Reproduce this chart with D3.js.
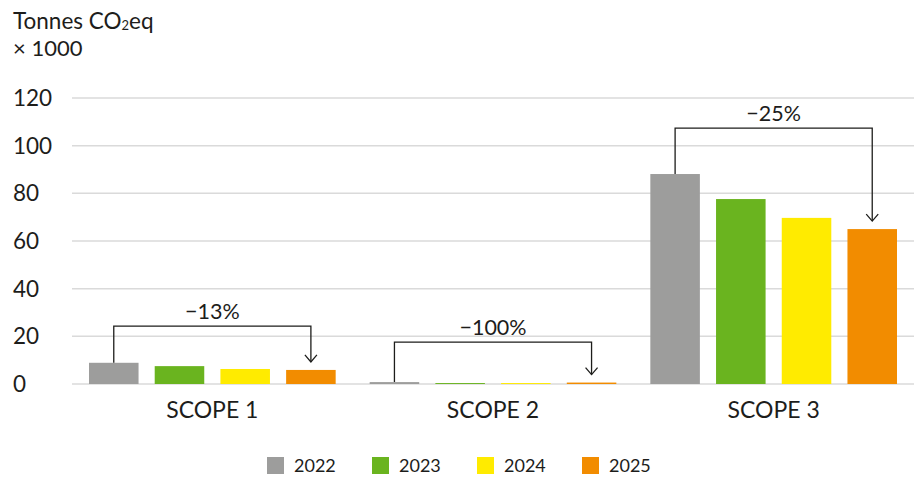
<!DOCTYPE html>
<html><head><meta charset="utf-8">
<script src="https://cdn.jsdelivr.net/npm/d3@7"></script>
<style>body{margin:0;background:#fff}svg{display:block;font-family:Lato,"Open Sans",sans-serif}</style>
</head><body><svg id="c" width="921" height="479"></svg>
<script>
const categories = ["SCOPE 1", "SCOPE 2", "SCOPE 3"];
const years = ["2022", "2023", "2024", "2025"];
const values2022 = [8.9, 0.8, 88.1];
const values2023 = [7.5, 0.4, 77.6];
const values2024 = [6.3, 0.4, 69.7];
const values2025 = [5.9, 0.6, 65.0];
const changeLabels = ["\u221213%", "\u2212100%", "\u221225%"];
const bracketLevels = [24.3, 17.6, 107.4];
const yTicks = [0, 20, 40, 60, 80, 100, 120];
const colors = ["#9d9d9c", "#6ab41f", "#ffeb00", "#f28c00"];

(function () {
const series = [values2022, values2023, values2024, values2025];
const svg = d3.select("#c");
const mLeft = 72, mRight = 914, mTop = 98, mBottom = 384;
const ink = "#1d1d1b";
const y = d3.scaleLinear().domain([0, 120]).range([mBottom, mTop]);
const x0 = d3.scaleBand().domain(categories).range([mLeft, mRight]).paddingInner(0).paddingOuter(0);
const x1 = d3.scaleBand().domain(years).range([17, x0.bandwidth() - 17]).paddingInner(0.246).paddingOuter(0);

svg.append("g").selectAll("line").data(yTicks).join("line")
  .attr("x1", mLeft).attr("x2", mRight)
  .attr("y1", d => y(d)).attr("y2", d => y(d))
  .attr("stroke", "#dadada").attr("stroke-width", 1.5);
svg.append("g").selectAll("text").data(yTicks).join("text")
  .attr("x", 13).attr("y", d => y(d)).attr("dy", "0.36em")
  .attr("font-size", 22.5).attr("fill", ink).text(d => d);

const t = svg.append("text").attr("x", 13).attr("y", 29).attr("font-size", 22.5).attr("fill", ink);
t.append("tspan").text("Tonnes CO");
t.append("tspan").attr("font-size", 13).attr("dy", 1).text("2");
t.append("tspan").attr("dy", -1).text("eq");
svg.append("text").attr("x", 13).attr("y", 56).attr("font-size", 22).attr("fill", ink).text("\u00d7 1000");

const groups = svg.append("g").selectAll("g").data(categories).join("g")
  .attr("transform", c => `translate(${x0(c)},0)`);
groups.selectAll("rect").data((c, i) => years.map((yr, j) => ({yr, v: series[j][i], j})))
  .join("rect")
  .attr("x", d => x1(d.yr)).attr("width", x1.bandwidth())
  .attr("y", d => y(d.v)).attr("height", d => y(0) - y(d.v))
  .attr("fill", d => colors[d.j]);

svg.append("g").selectAll("text").data(categories).join("text")
  .attr("x", c => x0(c) + x0.bandwidth() / 2).attr("y", 418)
  .attr("text-anchor", "middle").attr("font-size", 23).attr("fill", ink).text(c => c);

categories.forEach((c, i) => {
  const xa = x0(c) + x1("2022") + x1.bandwidth() / 2;
  const xb = x0(c) + x1("2025") + x1.bandwidth() / 2;
  const yb = y(bracketLevels[i]);
  const ya = y(values2022[i]);
  const ye = y(values2025[i]) - 8;
  svg.append("path")
    .attr("d", `M${xa},${ya}V${yb}H${xb}V${ye}`)
    .attr("fill", "none").attr("stroke", ink).attr("stroke-width", 1.3);
  svg.append("path")
    .attr("d", `M${xb - 6},${ye - 7}L${xb},${ye}L${xb + 6},${ye - 7}`)
    .attr("fill", "none").attr("stroke", ink).attr("stroke-width", 1.3);
  svg.append("text").attr("x", (xa + xb) / 2).attr("y", yb - 7)
    .attr("text-anchor", "middle").attr("font-size", 21.5).attr("fill", ink).text(changeLabels[i]);
});

const leg = svg.append("g").selectAll("g").data(years).join("g")
  .attr("transform", (d, i) => `translate(${267 + i * 105},457)`);
leg.append("rect").attr("width", 17).attr("height", 17).attr("fill", (d, i) => colors[i]);
leg.append("text").attr("x", 27).attr("y", 8.5).attr("dy", "0.36em")
  .attr("font-size", 18).attr("fill", ink).text(d => d);
})();
</script></body></html>
